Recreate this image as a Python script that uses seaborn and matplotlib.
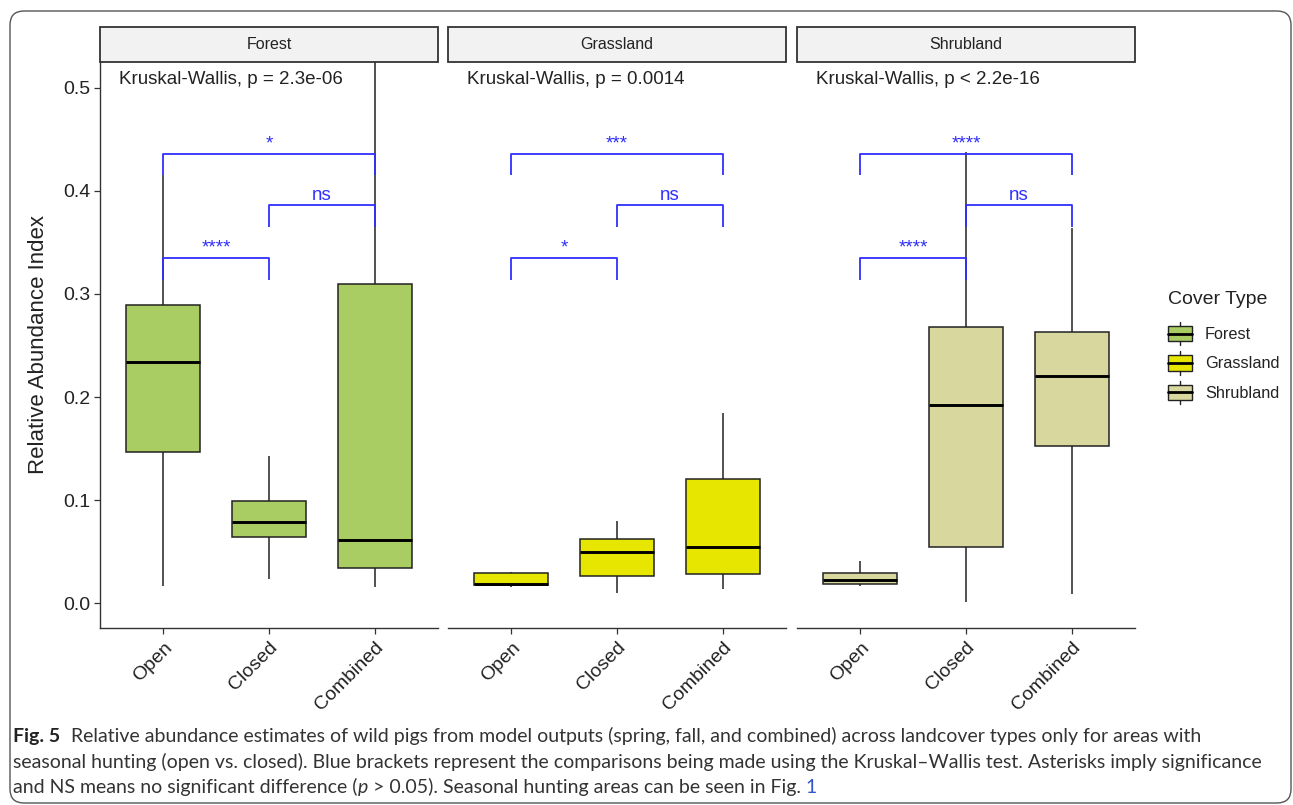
import numpy as np
import pandas as pd
import matplotlib
matplotlib.use("Agg")
import matplotlib.pyplot as plt
import seaborn as sns
from matplotlib.patches import Rectangle, FancyBboxPatch, Patch
from matplotlib.lines import Line2D
from matplotlib.legend_handler import HandlerBase
from matplotlib.transforms import IdentityTransform


covers = ["Forest", "Grassland", "Shrubland"]
periods = ["Open", "Closed", "Combined"]
cover_colors = ["#A9CD62", "#E6E600", "#D8D79E"]

# five-number summaries: low whisker, Q1, median, Q3, high whisker
forest_stats = [
    [0.017, 0.147, 0.234, 0.289, 0.415],
    [0.024, 0.064, 0.079, 0.099, 0.143],
    [0.016, 0.034, 0.061, 0.310, 0.620],
]
grassland_stats = [
    [0.016, 0.0175, 0.019, 0.029, 0.030],
    [0.010, 0.026, 0.050, 0.062, 0.080],
    [0.014, 0.028, 0.055, 0.121, 0.185],
]
shrubland_stats = [
    [0.0165, 0.0185, 0.023, 0.029, 0.041],
    [0.001, 0.055, 0.192, 0.268, 0.438],
    [0.009, 0.153, 0.220, 0.263, 0.364],
]

kw_labels = [
    "Kruskal-Wallis, p = 2.3e-06",
    "Kruskal-Wallis, p = 0.0014",
    "Kruskal-Wallis, p < 2.2e-16",
]

# pairwise comparison brackets
bracket_pairs = [(0, 1), (1, 2), (0, 2)]
bracket_heights = [0.335, 0.386, 0.436]
bracket_tip = 0.021
sig_labels = [
    ["****", "ns", "*"],
    ["*", "ns", "***"],
    ["****", "ns", "****"],
]

caption_lines = [
    "Relative abundance estimates of wild pigs from model outputs (spring, fall, and combined) across landcover types only for areas with",
    "seasonal hunting (open vs. closed). Blue brackets represent the comparisons being made using the Kruskal\u2013Wallis test. Asterisks imply significance",
    "and NS means no significant difference (",
]


rows = []
for cover, stats in zip(covers, [forest_stats, grassland_stats, shrubland_stats]):
    for period, five in zip(periods, stats):
        for v in five:
            rows.append((cover, period, v))
df = pd.DataFrame(rows, columns=["cover", "period", "value"])


sns.set_theme(style="ticks")
plt.rcParams["font.family"] = ["Liberation Sans", "DejaVu Sans"]

W, H = 1293, 805
BLUE = "#2F2FFF"
DARK = "#222222"

fig = plt.figure(figsize=(W / 100, H / 100), dpi=100)

panel_left = [100, 448, 797]
panel_w = 338
panel_top, panel_bottom = 62, 628

for i, cover in enumerate(covers):
    ax = fig.add_axes([panel_left[i] / W, 1 - panel_bottom / H,
                       panel_w / W, (panel_bottom - panel_top) / H])
    sub = df[df["cover"] == cover]
    sns.boxplot(data=sub, x="period", y="value", order=periods,
                color=cover_colors[i], saturation=1, width=0.7,
                whis=np.inf, showcaps=False, linecolor=DARK, linewidth=1.1,
                medianprops=dict(color="black", linewidth=2.1), ax=ax)

    ax.set_xlim(-0.6, 2.6)
    ax.set_ylim(-0.024, 0.525)
    ax.set_xlabel("")
    ax.set_ylabel("")
    sns.despine(ax=ax)
    for s in ["left", "bottom"]:
        ax.spines[s].set_color("#333333")
        ax.spines[s].set_linewidth(1.0)
    ax.tick_params(axis="both", direction="out", length=4, width=0.9,
                   color="#333333", labelsize=14, labelcolor=DARK, pad=3)
    ax.tick_params(axis="x", pad=4)
    plt.setp(ax.get_xticklabels(), rotation=45, ha="right", va="top",
             rotation_mode="anchor")

    if i == 0:
        ax.set_yticks([0.0, 0.1, 0.2, 0.3, 0.4, 0.5])
        ax.set_yticklabels(["0.0", "0.1", "0.2", "0.3", "0.4", "0.5"])
        ax.set_ylabel("Relative Abundance Index", fontsize=16, color=DARK, labelpad=10)
    else:
        ax.spines["left"].set_visible(False)
        ax.tick_params(axis="y", left=False, labelleft=False)

    # facet strip
    strip_h = 35 / (panel_bottom - panel_top)
    ax.add_patch(Rectangle((0, 1), 1, strip_h, transform=ax.transAxes,
                           facecolor="#F2F2F2", edgecolor="#333333",
                           linewidth=1.3, clip_on=False, zorder=3))
    ax.text(0.5, 1 + strip_h / 2, cover, transform=ax.transAxes,
            ha="center", va="center", fontsize=11.5, color=DARK)

    ax.text(0.055, 0.508, kw_labels[i], transform=ax.get_yaxis_transform(),
            ha="left", va="center", fontsize=13.5, color=DARK)

    for (a, b), h, lab in zip(bracket_pairs, bracket_heights, sig_labels[i]):
        ax.plot([a, a, b, b], [h - bracket_tip, h, h, h - bracket_tip],
                color=BLUE, lw=1.3, zorder=6, solid_capstyle="butt")
        ax.annotate(lab, xy=((a + b) / 2, h), xytext=(0, 4),
                    textcoords="offset points", ha="center", va="baseline",
                    color=BLUE, fontsize=13.5, zorder=7)


class BoxKey(HandlerBase):
    def create_artists(self, legend, orig_handle, xdescent, ydescent,
                       width, height, fontsize, trans):
        x0, y0 = -xdescent, -ydescent
        bh = height * 0.8
        by = y0 + (height - bh) / 2
        xm = x0 + width / 2
        stub = height * 0.2
        box = Rectangle((x0, by), width, bh, facecolor=orig_handle.get_facecolor(),
                        edgecolor=DARK, linewidth=1.0, transform=trans)
        med = Line2D([x0, x0 + width], [by + bh / 2] * 2, color="black",
                     linewidth=2.0, transform=trans)
        w1 = Line2D([xm, xm], [by + bh, by + bh + stub], color=DARK,
                    linewidth=1.0, transform=trans)
        w2 = Line2D([xm, xm], [by, by - stub], color=DARK,
                    linewidth=1.0, transform=trans)
        return [box, med, w1, w2]


handles = [Patch(facecolor=c, edgecolor=DARK) for c in cover_colors]
leg = fig.legend(handles=handles, labels=covers, title="Cover Type",
                 loc="upper left", bbox_to_anchor=(1153 / W, 1 - 276 / H),
                 frameon=False, handler_map={Patch: BoxKey()},
                 fontsize=11.7, title_fontsize=14, alignment="left",
                 handlelength=1.5, handleheight=1.45, labelspacing=0.62,
                 handletextpad=0.8)
# a little more room between the title and the first key
leg._legend_box.sep = 0.62 * 11.7 + 4.5
for t in leg.get_texts():
    t.set_color(DARK)
leg.get_title().set_color(DARK)


# caption, placed in pixel coordinates
renderer = fig.canvas.get_renderer()
cap_family = ["Lato", "DejaVu Sans"]
cap_color = "#333333"
cap_x = 13


def text_width(s, size, **kw):
    t = fig.text(0, 0, s, fontsize=size, family=cap_family, transform=IdentityTransform(), **kw)
    w = t.get_window_extent(renderer).width
    t.remove()
    return w


def place(segments, x, y, size):
    space = text_width("a a", size) - text_width("aa", size)
    for s, kw in segments:
        t = fig.text(x, y, s, fontsize=size, family=cap_family, color=kw.get("color", cap_color),
                     fontweight=kw.get("weight", "normal"), fontstyle=kw.get("style", "normal"),
                     transform=IdentityTransform(), ha="left", va="baseline")
        x = t.get_window_extent(renderer).x1 + kw.get("gap", space)
    return x


cap_size = 10 * (1262 - cap_x) / text_width(caption_lines[1], 10)
sp = text_width("a a", cap_size) - text_width("aa", cap_size)

place([("Fig. 5", dict(weight="bold", color="#222222", gap=2.2 * sp)),
       (caption_lines[0], {})], cap_x, H - 742, cap_size)
place([(caption_lines[1], {})], cap_x, H - 768, cap_size)
place([(caption_lines[2], dict(gap=0)), ("p", dict(style="italic", gap=sp)),
       ("> 0.05). Seasonal hunting areas can be seen in Fig.", {}),
       ("1", dict(color="#3355CC"))], cap_x, H - 793, cap_size)

frame = FancyBboxPatch((10, H - 803), 1281, 803 - 11,
                       boxstyle="round,pad=0,rounding_size=14",
                       transform=IdentityTransform(), facecolor="none",
                       edgecolor="#555555", linewidth=1.0)
fig.patches.append(frame)

fig.savefig("out.png", dpi=100)
